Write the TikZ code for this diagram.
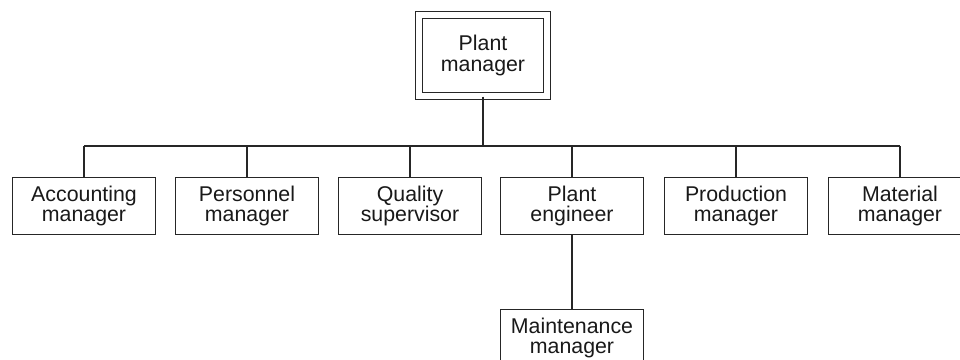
\documentclass[tikz,border=0pt]{standalone}
\usepackage{fontspec}
\setmainfont{Liberation Sans}
\tikzset{every picture/.style={line width=0.9pt}}
\tikzset{
  rolebox/.style={draw=black!85, fill=white, minimum width=107.25pt, minimum height=42.75pt,
    inner sep=0pt, align=center, text=black!90, font=\fontsize{16}{15.2}\selectfont},
  topbox/.style={rolebox, minimum width=96pt, minimum height=60.75pt, double, double distance=4.4pt},
  link/.style={draw=black!85}
}

\begin{document}
\begin{tikzpicture}[x=0.75pt,y=0.75pt,yscale=-1,xscale=1]
\useasboundingbox (0,0) rectangle (960,360);

%Shape: top box
\node[topbox] (pm) at (483,55.5) {Plant\\manager};

%Shape: row of boxes
\node[rolebox] (acc) at (84,206) {Accounting\\manager};
\node[rolebox] (pers) at (247,206) {Personnel\\manager};
\node[rolebox] (qual) at (410,206) {Quality\\supervisor};
\node[rolebox] (eng) at (572,206) {Plant\\engineer};
\node[rolebox] (prod) at (736,206) {Production\\manager};
\node[rolebox] (mat) at (900,206) {Material\\manager};

%Shape: bottom box
\node[rolebox] (maint) at (572,338) {Maintenance\\manager};

%Straight Lines
\coordinate (bar) at (0,146);
\draw[link] (pm.south) -- (pm.south |- bar);
\draw[link] (acc.north |- bar) -- (mat.north |- bar);
\foreach \b in {acc,pers,qual,eng,prod,mat}
  \draw[link] (\b.north) -- (\b.north |- bar);
\draw[link] (eng.south) -- (maint.north);

\end{tikzpicture}
\end{document}
